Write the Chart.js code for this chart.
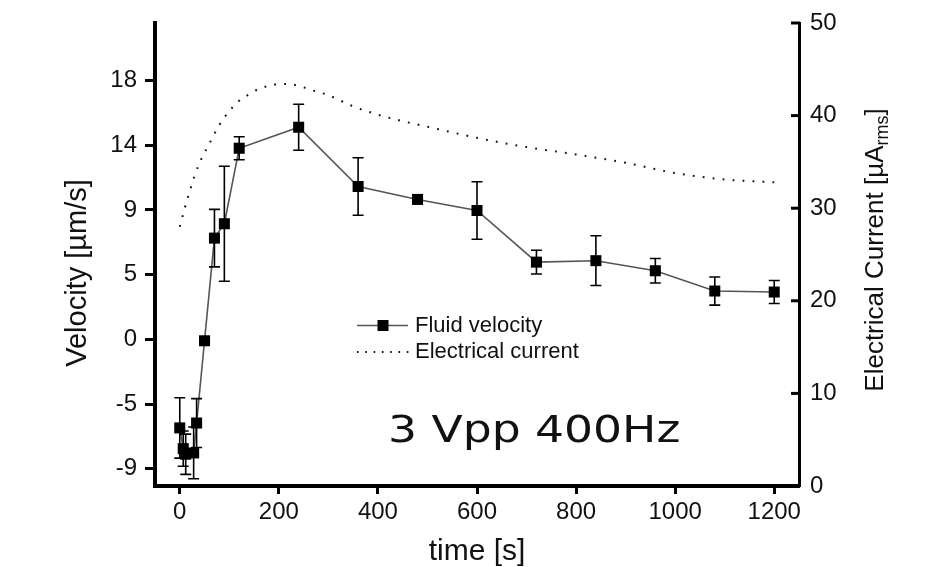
<!DOCTYPE html>
<html><head><meta charset="utf-8">
<script src="https://cdn.jsdelivr.net/npm/chart.js@4.4.1/dist/chart.umd.min.js"></script>
<style>html,body{margin:0;padding:0;background:#fff;}#wrap{width:935px;height:567px;position:relative;}</style>
</head><body><div id="wrap"><canvas id="c" width="935" height="567"></canvas></div>
<script>
// ---- data ----
const timeVelocity = [0, 7, 12, 28, 34, 50, 70, 90, 120, 240, 360, 480, 600, 720, 840, 960, 1080, 1200];
const velocity     = [-6.16, -7.6, -7.99, -7.9, -5.82, -0.1, 7.04, 8.04, 13.29, 14.75, 10.63, 9.73, 8.96, 5.37, 5.47, 4.77, 3.36, 3.29];
const velocityError= [2.1, 1.23, 1.4, 1.8, 1.7, 0, 2.0, 4.0, 0.8, 1.6, 2.0, 0, 2.0, 0.83, 1.73, 0.85, 0.98, 0.8];
const timeCurrent  = [0, 10, 20, 30, 40, 50, 60, 80, 100, 120, 140, 160, 180, 200, 220, 240, 270, 300, 350, 400, 450, 500, 600, 700, 800, 900, 1000, 1100, 1200];
const current      = [28.0, 30.0, 31.8, 33.5, 34.9, 36.0, 37.0, 39.0, 40.5, 41.6, 42.3, 42.9, 43.2, 43.4, 43.4, 43.2, 42.7, 42.2, 41.0, 40.1, 39.4, 38.8, 37.6, 36.6, 35.8, 34.9, 33.8, 33.1, 32.8];
const timeTicks = [0, 200, 400, 600, 800, 1000, 1200];
const velocityTickValues = [-9, -4.5, 0, 4.5, 9, 13.5, 18];
const velocityTickLabels = ['-9', '-5', '0', '5', '9', '14', '18'];
const currentTicks = [0, 10, 20, 30, 40, 50];
const seriesNames = ['Fluid velocity', 'Electrical current'];
const xTitle = 'time [s]';
const yTitle = 'Velocity [µm/s]';
const y2TitleParts = ['Electrical Current [µA', 'rms', ']'];
const annotationText = '3 Vpp 400Hz';

const FAM = "'Liberation Sans', Arial, sans-serif";
Chart.defaults.font.family = FAM;
Chart.defaults.color = '#111';

const extras = {
  id: 'extras',
  afterDatasetsDraw(chart) {
    const ctx = chart.ctx, xs = chart.scales.x, ys = chart.scales.y;
    ctx.save();
    ctx.strokeStyle = '#000'; ctx.lineWidth = 1.6;
    timeVelocity.forEach((t, i) => {
      const e = velocityError[i]; if (!e) return;
      const px = xs.getPixelForValue(t);
      const top = ys.getPixelForValue(velocity[i] + e), bot = ys.getPixelForValue(velocity[i] - e);
      ctx.beginPath();
      ctx.moveTo(px, top); ctx.lineTo(px, bot);
      ctx.moveTo(px - 5.5, top); ctx.lineTo(px + 5.5, top);
      ctx.moveTo(px - 5.5, bot); ctx.lineTo(px + 5.5, bot);
      ctx.stroke();
    });
    ctx.restore();
  },
  afterDraw(chart) {
    const ctx = chart.ctx;
    ctx.save();
    // inward tick marks on the right axis
    const y2 = chart.scales.y2, ca = chart.chartArea;
    ctx.strokeStyle = '#000'; ctx.lineWidth = 3;
    currentTicks.forEach(v => {
      const py = y2.getPixelForValue(v);
      ctx.beginPath(); ctx.moveTo(ca.right + 1, py); ctx.lineTo(ca.right - 8, py); ctx.stroke();
    });
    ctx.fillStyle = '#111';
    // left axis title
    ctx.save();
    ctx.translate(78, 273); ctx.rotate(-Math.PI / 2);
    ctx.font = '29px ' + FAM; ctx.textAlign = 'center'; ctx.textBaseline = 'middle';
    ctx.fillText(yTitle, 0, 0);
    ctx.restore();
    // right axis title with subscript
    ctx.save();
    ctx.translate(876, 250); ctx.rotate(-Math.PI / 2);
    const mf = '26px ' + FAM, sf = '18px ' + FAM;
    ctx.textBaseline = 'middle'; ctx.textAlign = 'left';
    ctx.font = mf; const w1 = ctx.measureText(y2TitleParts[0]).width, w3 = ctx.measureText(y2TitleParts[2]).width;
    ctx.font = sf; const w2 = ctx.measureText(y2TitleParts[1]).width;
    let x = -(w1 + w2 + w3) / 2;
    ctx.font = mf; ctx.fillText(y2TitleParts[0], x, 0); x += w1;
    ctx.font = sf; ctx.fillText(y2TitleParts[1], x, 7); x += w2;
    ctx.font = mf; ctx.fillText(y2TitleParts[2], x, 0);
    ctx.restore();
    // legend
    const ds0 = chart.data.datasets[0], ds1 = chart.data.datasets[1];
    ctx.strokeStyle = ds0.borderColor; ctx.lineWidth = ds0.borderWidth;
    ctx.beginPath(); ctx.moveTo(357, 325.5); ctx.lineTo(408, 325.5); ctx.stroke();
    ctx.fillStyle = '#000'; ctx.fillRect(377.5, 320, 11, 11);
    ctx.strokeStyle = ds1.borderColor; ctx.lineWidth = 1.8; ctx.setLineDash([1.6, 6.7]);
    ctx.beginPath(); ctx.moveTo(357, 352); ctx.lineTo(410, 352); ctx.stroke();
    ctx.setLineDash([]);
    ctx.fillStyle = '#111'; ctx.font = '22px ' + FAM; ctx.textBaseline = 'middle'; ctx.textAlign = 'left';
    ctx.fillText(seriesNames[0], 415, 326);
    ctx.fillText(seriesNames[1], 415, 352);
    // annotation
    ctx.save();
    ctx.translate(388, 442); ctx.scale(1.2, 1);
    ctx.font = "38px 'DejaVu Sans', Verdana, sans-serif"; ctx.textBaseline = 'alphabetic';
    ctx.fillStyle = '#111';
    ctx.fillText(annotationText, 0, 0);
    ctx.restore();
    ctx.restore();
  }
};

new Chart(document.getElementById('c'), {
  type: 'line',
  data: {
    datasets: [
      {
        label: seriesNames[0],
        data: timeVelocity.map((t, i) => ({x: t, y: velocity[i]})),
        yAxisID: 'y',
        borderColor: '#555', borderWidth: 1.6,
        pointStyle: 'rect', pointRadius: 7.8, pointHoverRadius: 7.8,
        pointBackgroundColor: '#000', pointBorderColor: '#000', pointBorderWidth: 0,
        tension: 0, fill: false
      },
      {
        label: seriesNames[1],
        data: timeCurrent.map((t, i) => ({x: t, y: current[i]})),
        yAxisID: 'y2',
        borderColor: '#111', borderWidth: 2, borderDash: [1.8, 8.2],
        pointRadius: 0, cubicInterpolationMode: 'monotone', fill: false
      }
    ]
  },
  options: {
    responsive: false, animation: false, devicePixelRatio: 1,
    layout: {padding: {top: 12, left: 0, right: 0, bottom: 0}},
    plugins: {legend: {display: false}, tooltip: {enabled: false}},
    scales: {
      x: {
        type: 'linear', position: 'bottom', min: -50, max: 1250,
        afterBuildTicks: s => { s.ticks = timeTicks.map(v => ({value: v})); },
        afterFit: s => { s.height = 81; },
        ticks: {font: {size: 24}, color: '#111', padding: 4, maxRotation: 0, callback: v => String(v)},
        grid: {drawOnChartArea: false, tickLength: 8, tickWidth: 3, tickColor: '#000'},
        border: {display: true, color: '#000', width: 4},
        title: {display: true, text: xTitle, color: '#111', font: {size: 30, lineHeight: 1}, padding: {top: 0, bottom: 0}}
      },
      y: {
        type: 'linear', position: 'left', min: -10.2, max: 22,
        afterBuildTicks: s => { s.ticks = velocityTickValues.map(v => ({value: v})); },
        afterFit: s => { s.width = 155; },
        ticks: {font: {size: 24, lineHeight: 1}, color: '#111', padding: 8, callback: (v, i) => velocityTickLabels[i]},
        grid: {drawOnChartArea: false, tickLength: 10, tickWidth: 3, tickColor: '#000'},
        border: {display: true, color: '#000', width: 4}
      },
      y2: {
        type: 'linear', position: 'right', min: 0, max: 50,
        afterBuildTicks: s => { s.ticks = currentTicks.map(v => ({value: v})); },
        afterFit: s => { s.width = 136; },
        ticks: {font: {size: 24, lineHeight: 1}, color: '#111', padding: 11},
        grid: {drawOnChartArea: false, drawTicks: false},
        border: {display: true, color: '#000', width: 3}
      }
    }
  },
  plugins: [extras]
});
</script></body></html>
